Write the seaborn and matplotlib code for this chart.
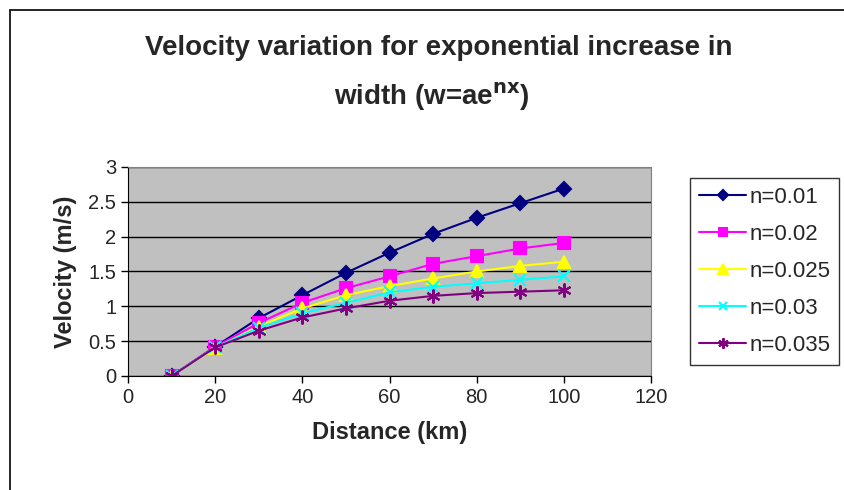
import numpy as np
import pandas as pd
import seaborn as sns
import matplotlib.pyplot as plt
from matplotlib.patches import Rectangle

# distances (km) and velocities (m/s)
distance = [10, 20, 30, 40, 50, 60, 70, 80, 90, 100]
v_001 = [0, 0.42, 0.83, 1.16, 1.48, 1.77, 2.04, 2.27, 2.48, 2.69]
v_002 = [0, 0.42, 0.76, 1.05, 1.26, 1.43, 1.61, 1.72, 1.83, 1.91]
v_0025 = [0, 0.40, 0.71, 0.97, 1.16, 1.29, 1.40, 1.50, 1.58, 1.64]
v_003 = [0, 0.41, 0.69, 0.90, 1.05, 1.20, 1.28, 1.33, 1.38, 1.43]
v_0035 = [0, 0.41, 0.65, 0.84, 0.97, 1.08, 1.15, 1.19, 1.21, 1.23]
labels = ["n=0.01", "n=0.02", "n=0.025", "n=0.03", "n=0.035"]

series = [v_001, v_002, v_0025, v_003, v_0035]
df = pd.concat([pd.DataFrame({"Distance": distance, "Velocity": v, "n": lab})
                for v, lab in zip(series, labels)])

colors = ["#000080", "#FF00FF", "#FFFF00", "#00FFFF", "#800080"]
markers = ["D", "s", "^", "x", (6, 2, 0)]
msizes = [7, 8, 9, 8, 10]

sns.set_style("white")
plt.rcParams['font.family'] = ['Liberation Sans', 'DejaVu Sans']

fig = plt.figure(figsize=(8.44, 4.9), dpi=100)
ax = fig.add_axes([0.1517, 0.2327, 0.6196, 0.4265])
ax.set_facecolor("#C0C0C0")

for lab, c, m, ms in zip(labels, colors, markers, msizes):
    sns.lineplot(data=df[df["n"] == lab], x="Distance", y="Velocity", ax=ax,
                 color=c, marker=m, markersize=ms, markeredgecolor=c,
                 markeredgewidth=1.5, linewidth=1.5, label=lab)

ax.set_xlim(0, 120)
ax.set_ylim(0, 3)
ax.set_xticks(np.arange(0, 121, 20))
ax.set_yticks(np.arange(0, 3.01, 0.5))
ax.set_yticklabels(["0", "0.5", "1", "1.5", "2", "2.5", "3"])
ax.grid(axis="y", color="black", linewidth=1)
ax.set_axisbelow(True)
for s in ["top", "right"]:
    ax.spines[s].set_color("#808080")
for s in ["left", "bottom"]:
    ax.spines[s].set_color("black")
ax.tick_params(axis="both", labelsize=14.5, direction="out", length=5,
               width=1, color="black", left=True, bottom=True)

ax.set_xlabel("Distance (km)", fontsize=17, fontweight="bold", labelpad=10)
ax.set_ylabel("Velocity (m/s)", fontsize=17, fontweight="bold", labelpad=8)

fig.text(0.52, 0.902, "Velocity variation for exponential increase in",
         ha="center", va="center", fontsize=20, fontweight="bold")
fig.text(0.512, 0.803, r"width (w=ae$^{\mathbf{nx}}$)",
         ha="center", va="center", fontsize=20, fontweight="bold")

leg = ax.legend(loc="center left", bbox_to_anchor=(0.818, 0.446),
                bbox_transform=fig.transFigure, fontsize=16, frameon=True,
                fancybox=False, edgecolor="black", handlelength=2.1,
                labelspacing=0.72, borderpad=0.4, handletextpad=0.15,
                borderaxespad=0, markerscale=0.75)
leg.get_frame().set_linewidth(1)

# outer chart frame (only left and top edges are inside the image)
fig.add_artist(Rectangle((10 / 844, -0.1), 1.2, 1.1 - 10 / 490,
                         transform=fig.transFigure, fill=False,
                         edgecolor="black", linewidth=1.2))

fig.savefig("out.png", dpi=100)
